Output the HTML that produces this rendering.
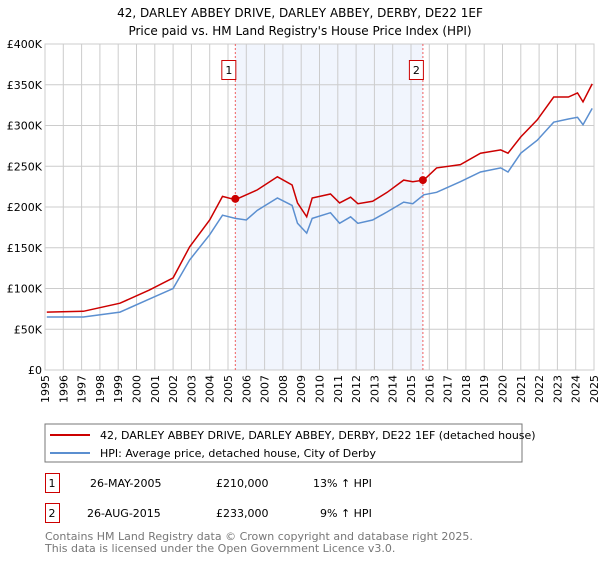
<!DOCTYPE html>
<html><head><meta charset="utf-8"><style>
body{margin:0;background:#fff;font-family:"DejaVu Sans","Liberation Sans",sans-serif;}
svg text{font-family:"DejaVu Sans","Liberation Sans",sans-serif;}
</style></head><body>
<svg id="chart" width="600" height="560">
<text x="300" y="17" text-anchor="middle" font-size="12">42, DARLEY ABBEY DRIVE, DARLEY ABBEY, DERBY, DE22 1EF</text>
<text x="300" y="35" text-anchor="middle" font-size="12">Price paid vs. HM Land Registry's House Price Index (HPI)</text>
<g id="plot"></g>
<rect x="45" y="424" width="477" height="38" fill="#fff" stroke="#777"/>
<line x1="50" y1="435" x2="90" y2="435" stroke="#cc0000" stroke-width="2"/>
<text x="100" y="439" font-size="11">42, DARLEY ABBEY DRIVE, DARLEY ABBEY, DERBY, DE22 1EF (detached house)</text>
<line x1="50" y1="453" x2="90" y2="453" stroke="#5b8fd0" stroke-width="2"/>
<text x="100" y="457" font-size="11">HPI: Average price, detached house, City of Derby</text>
<g>
<rect x="45.5" y="473.5" width="14" height="19" fill="none" stroke="#cc0000"/>
<text x="52" y="487" text-anchor="middle" font-size="11">1</text>
<text x="90" y="487" font-size="11">26-MAY-2005</text>
<text x="216" y="487" font-size="11">£210,000</text>
<text x="313" y="487" font-size="11">13% ↑ HPI</text></g>
<g>
<rect x="45.5" y="503.5" width="14" height="19" fill="none" stroke="#cc0000"/>
<text x="52" y="517" text-anchor="middle" font-size="11">2</text>
<text x="87" y="517" font-size="11">26-AUG-2015</text>
<text x="216" y="517" font-size="11">£233,000</text>
<text x="320" y="517" font-size="11">9% ↑ HPI</text></g>
<text x="45" y="540" font-size="11" fill="#777">Contains HM Land Registry data © Crown copyright and database right 2025.</text>
<text x="45" y="552" font-size="11" fill="#777">This data is licensed under the Open Government Licence v3.0.</text>
</svg>
<script>
const hpiYears=[1995.1,1997.1,1999.1,2000.7,2002.0,2002.9,2004.0,2004.7,2005.4,2006.0,2006.6,2007.7,2008.5,2008.8,2009.3,2009.6,2010.6,2011.1,2011.7,2012.1,2012.9,2013.7,2014.6,2015.1,2015.7,2016.4,2017.7,2018.8,2019.9,2020.3,2021.0,2021.9,2022.8,2023.6,2024.1,2024.4,2024.9];
const hpiValues=[65,65,71,87,100,135,166,190,186,184,196,211,202,180,168,186,193,180,188,180,184,194,206,204,215,218,231,243,248,243,266,282,304,308,310,301,321];
const priceValues=[71,72,82,98,113,151,184,213,209,215,221,237,227,205,188,211,216,205,212,204,207,218,233,231,233,248,252,266,270,266,286,307,335,335,340,329,351];
const yTicks=[0,50,100,150,200,250,300,350,400];
const xTickYears=[1995,1996,1997,1998,1999,2000,2001,2002,2003,2004,2005,2006,2007,2008,2009,2010,2011,2012,2013,2014,2015,2016,2017,2018,2019,2020,2021,2022,2023,2024,2025];
const saleYears=[2005.4,2015.65];
const saleValues=[210,233];
const saleLabels=["1","2"];
const X0=45,X1=594,Y0=370,Y1=44;
const xs=y=>X0+(y-1995)/30*(X1-X0);
const ys=v=>Y0-v/400*(Y0-Y1);
const NS="http://www.w3.org/2000/svg";
const g=document.getElementById('plot');
function mk(t,a){const e=document.createElementNS(NS,t);for(const k in a)e.setAttribute(k,a[k]);g.appendChild(e);return e;}
const shade=mk('rect',{x:xs(saleYears[0]),y:Y1,width:xs(saleYears[1])-xs(saleYears[0]),height:Y0-Y1,fill:'#eef3fc',opacity:0.8});


xTickYears.forEach(yr=>{
 const l=mk('line',{x1:xs(yr),x2:xs(yr),y1:Y1,y2:Y0,stroke:'#ccc'});
 
 
 const tx=xs(yr)+4, ty=Y0+5;
 const t=mk('text',{x:tx,y:ty,'text-anchor':'end','font-size':11,transform:'rotate(-90 '+tx+' '+ty+')'});
 t.textContent=yr;
 
 
});
yTicks.forEach(v=>{
 const l=mk('line',{x1:X0,x2:X1,y1:ys(v),y2:ys(v),stroke:'#ccc'});
 
 
 const t=mk('text',{x:X0-3,y:ys(v)+4,'text-anchor':'end','font-size':11});
 t.textContent=v===0?'£0':'£'+v+'K';
 
 
});
const frame=mk('rect',{x:X0,y:Y1,width:X1-X0,height:Y0-Y1,fill:'none',stroke:'#ccc'});


saleYears.forEach((yr,i)=>{
 const l=mk('line',{x1:xs(yr),x2:xs(yr),y1:Y1,y2:Y0,stroke:'#f06060','stroke-dasharray':'2,2'});
 
 
 const r=mk('rect',{x:xs(yr)-13.5,y:60.5,width:14,height:19,fill:'#fff',stroke:'#cc0000'});
 
 
 const t=mk('text',{x:xs(yr)-6.5,y:74,'text-anchor':'middle','font-size':11});
 t.textContent=saleLabels[i];
 
 
});
function path(vals){return hpiYears.map((yr,i)=>(i?'L':'M')+xs(yr).toFixed(1)+','+ys(vals[i]).toFixed(1)).join('');}
const hp=mk('path',{d:path(hpiValues),fill:'none',stroke:'#5b8fd0','stroke-width':1.5});


const pp=mk('path',{d:path(priceValues),fill:'none',stroke:'#cc0000','stroke-width':1.5});


saleYears.forEach((yr,i)=>{
 const c=mk('circle',{cx:xs(yr),cy:ys(saleValues[i]),r:4,fill:'#cc0000'});
 
 
});
</script>
</body></html>
